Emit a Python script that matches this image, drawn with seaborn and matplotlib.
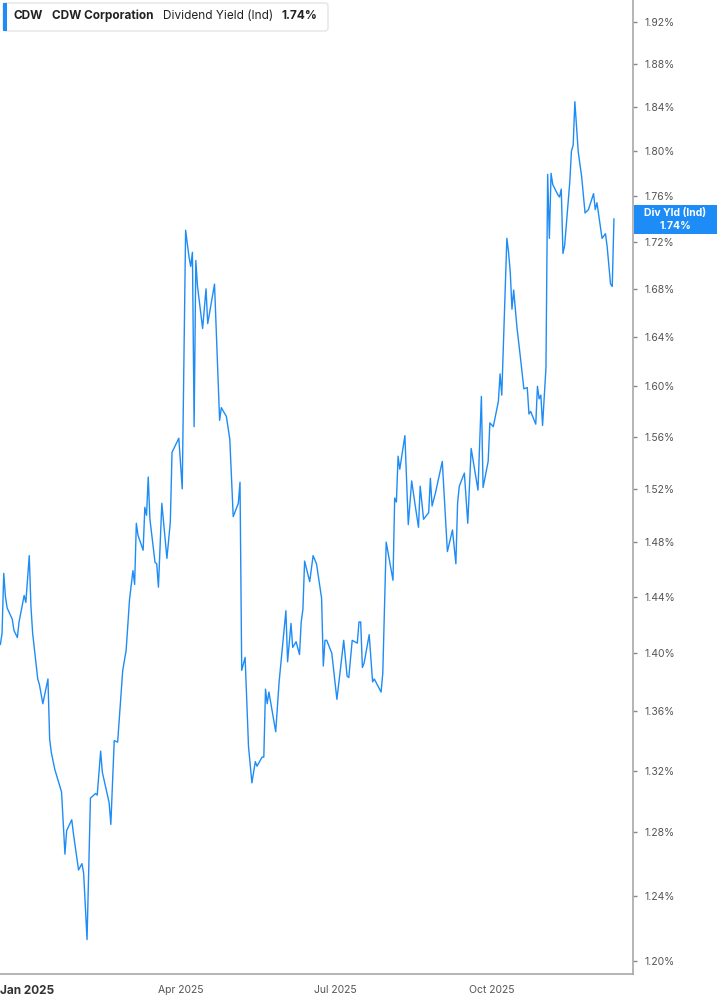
import matplotlib
matplotlib.use("Agg")
import matplotlib.pyplot as plt
import matplotlib.dates as mdates
import matplotlib.ticker as mticker
from matplotlib.patches import Rectangle, FancyBboxPatch
from matplotlib.transforms import IdentityTransform
import seaborn as sns
import pandas as pd

# data
trade_dates = [
    "2024-12-16", "2024-12-17", "2024-12-18", "2024-12-19", "2024-12-20", "2024-12-23",
    "2024-12-24", "2024-12-26", "2024-12-27", "2024-12-30", "2024-12-31", "2025-01-02",
    "2025-01-03", "2025-01-04", "2025-01-07", "2025-01-08", "2025-01-10", "2025-01-13",
    "2025-01-14", "2025-01-15", "2025-01-17", "2025-01-21", "2025-01-23", "2025-01-24",
    "2025-01-27", "2025-01-28", "2025-01-31", "2025-02-02", "2025-02-03", "2025-02-05",
    "2025-02-07", "2025-02-10", "2025-02-11", "2025-02-13", "2025-02-14", "2025-02-18",
    "2025-02-19", "2025-02-21", "2025-02-23", "2025-02-26", "2025-02-28", "2025-03-02",
    "2025-03-04", "2025-03-05", "2025-03-06", "2025-03-07", "2025-03-10", "2025-03-11",
    "2025-03-12", "2025-03-13", "2025-03-14", "2025-03-17", "2025-03-18", "2025-03-19",
    "2025-03-21", "2025-03-24", "2025-03-26", "2025-03-27", "2025-03-31", "2025-04-02",
    "2025-04-04", "2025-04-06", "2025-04-07", "2025-04-08", "2025-04-09", "2025-04-10",
    "2025-04-11", "2025-04-14", "2025-04-16", "2025-04-17", "2025-04-21", "2025-04-24",
    "2025-04-25", "2025-04-28", "2025-04-30", "2025-05-02", "2025-05-05", "2025-05-06",
    "2025-05-07", "2025-05-09", "2025-05-11", "2025-05-13", "2025-05-15", "2025-05-16",
    "2025-05-19", "2025-05-20", "2025-05-21", "2025-05-22", "2025-05-23", "2025-05-27",
    "2025-05-28", "2025-05-29", "2025-06-02", "2025-06-03", "2025-06-05", "2025-06-06",
    "2025-06-08", "2025-06-10", "2025-06-11", "2025-06-12", "2025-06-13", "2025-06-16",
    "2025-06-18", "2025-06-20", "2025-06-23", "2025-06-24", "2025-06-25", "2025-06-26",
    "2025-06-29", "2025-07-02", "2025-07-04", "2025-07-06", "2025-07-08", "2025-07-09",
    "2025-07-11", "2025-07-14", "2025-07-15", "2025-07-16", "2025-07-17", "2025-07-18",
    "2025-07-21", "2025-07-23", "2025-07-24", "2025-07-28", "2025-07-29", "2025-07-31",
    "2025-08-04", "2025-08-05", "2025-08-06", "2025-08-07", "2025-08-08", "2025-08-11",
    "2025-08-13", "2025-08-15", "2025-08-17", "2025-08-19", "2025-08-20", "2025-08-22",
    "2025-08-25", "2025-08-26", "2025-08-27", "2025-08-29", "2025-09-02", "2025-09-05",
    "2025-09-08", "2025-09-10", "2025-09-11", "2025-09-12", "2025-09-15", "2025-09-17",
    "2025-09-19", "2025-09-23", "2025-09-25", "2025-09-26", "2025-09-29", "2025-09-30",
    "2025-10-02", "2025-10-05", "2025-10-06", "2025-10-07", "2025-10-10", "2025-10-11",
    "2025-10-12", "2025-10-13", "2025-10-14", "2025-10-16", "2025-10-18", "2025-10-20",
    "2025-10-22", "2025-10-23", "2025-10-24", "2025-10-27", "2025-10-28", "2025-10-29",
    "2025-10-30", "2025-10-31", "2025-11-02", "2025-11-03", "2025-11-04", "2025-11-05",
    "2025-11-06", "2025-11-09", "2025-11-10", "2025-11-11", "2025-11-12", "2025-11-13",
    "2025-11-16", "2025-11-17", "2025-11-18", "2025-11-19", "2025-11-21", "2025-11-23",
    "2025-11-25", "2025-11-27", "2025-11-30", "2025-12-01", "2025-12-02", "2025-12-05",
    "2025-12-07", "2025-12-08", "2025-12-10", "2025-12-11", "2025-12-12",
]

div_yield = [
    1.406, 1.414, 1.457, 1.440, 1.432, 1.424,
    1.416, 1.411, 1.422, 1.441, 1.436, 1.470,
    1.433, 1.414, 1.382, 1.378, 1.365, 1.382,
    1.341, 1.332, 1.321, 1.306, 1.266, 1.281,
    1.288, 1.279, 1.256, 1.260, 1.254, 1.213,
    1.302, 1.305, 1.304, 1.333, 1.319, 1.299,
    1.285, 1.340, 1.339, 1.388, 1.402, 1.438,
    1.459, 1.449, 1.494, 1.485, 1.474, 1.506,
    1.500, 1.529, 1.497, 1.465, 1.464, 1.447,
    1.509, 1.468, 1.495, 1.548, 1.559, 1.520,
    1.730, 1.707, 1.699, 1.711, 1.568, 1.704,
    1.682, 1.647, 1.680, 1.651, 1.684, 1.573,
    1.583, 1.576, 1.558, 1.499, 1.509, 1.525,
    1.388, 1.397, 1.336, 1.312, 1.326, 1.323,
    1.329, 1.329, 1.375, 1.365, 1.373, 1.346,
    1.363, 1.380, 1.430, 1.394, 1.421, 1.404,
    1.408, 1.399, 1.422, 1.431, 1.466, 1.451,
    1.470, 1.464, 1.439, 1.391, 1.409, 1.409,
    1.400, 1.368, 1.388, 1.409, 1.384, 1.383,
    1.409, 1.407, 1.422, 1.422, 1.390, 1.393,
    1.413, 1.380, 1.382, 1.373, 1.386, 1.480,
    1.452, 1.513, 1.510, 1.545, 1.535, 1.561,
    1.493, 1.526, 1.508, 1.491, 1.522, 1.497,
    1.502, 1.528, 1.507, 1.517, 1.541, 1.473,
    1.489, 1.464, 1.509, 1.522, 1.532, 1.494,
    1.551, 1.519, 1.592, 1.521, 1.541, 1.571,
    1.568, 1.588, 1.610, 1.593, 1.723, 1.711,
    1.694, 1.663, 1.679, 1.647, 1.623, 1.598,
    1.599, 1.578, 1.580, 1.570, 1.600, 1.590,
    1.593, 1.569, 1.615, 1.779, 1.723, 1.780,
    1.770, 1.761, 1.759, 1.766, 1.710, 1.717,
    1.772, 1.800, 1.805, 1.845, 1.799, 1.777,
    1.745, 1.748, 1.762, 1.748, 1.754, 1.723,
    1.727, 1.716, 1.684, 1.682, 1.740,
]

ytick_vals = [1.20, 1.24, 1.28, 1.32, 1.36, 1.40, 1.44, 1.48, 1.52, 1.56,
              1.60, 1.64, 1.68, 1.72, 1.76, 1.80, 1.84, 1.88, 1.92]
xtick_dates = ["2025-01-01", "2025-04-01", "2025-07-01", "2025-10-01"]
xtick_labels = ["Jan 2025", "Apr 2025", "Jul 2025", "Oct 2025"]

ticker = "CDW"
company = "CDW Corporation"
metric = "Dividend Yield (Ind)"
metric_short = "Div Yld (Ind)"

df = pd.DataFrame({"date": pd.to_datetime(trade_dates), "yield": div_yield})

BLUE = "#1e8cf6"

sns.set_style("white")
plt.rcParams["font.family"] = ["Inter", "DejaVu Sans"]

W, H = 717, 1005
fig = plt.figure(figsize=(W / 100, H / 100), dpi=100)
ax = fig.add_axes([0, 31 / H, 633 / W, 1 - 31 / H])

sns.lineplot(data=df, x="date", y="yield", ax=ax, color=BLUE, linewidth=1.0)

ax.set_yscale("log")
ax.set_ylim(1.1923, 1.9413)
ax.set_xlim(pd.Timestamp("2024-12-15 19:00"), pd.Timestamp("2025-12-23 05:00"))

ax.yaxis.tick_right()
ax.yaxis.set_major_locator(mticker.FixedLocator(ytick_vals))
ax.yaxis.set_major_formatter(mticker.FuncFormatter(lambda v, p: f"{v:.2f}%"))
ax.yaxis.set_minor_locator(mticker.NullLocator())
ax.yaxis.set_minor_formatter(mticker.NullFormatter())
ax.set_xticks(pd.to_datetime(xtick_dates))
ax.set_xticklabels(xtick_labels)
ax.set_xlabel("")
ax.set_ylabel("")

for side in ["left", "top"]:
    ax.spines[side].set_visible(False)
for side in ["right", "bottom"]:
    ax.spines[side].set_color("#a8a8a8")
    ax.spines[side].set_linewidth(1.2)

ax.tick_params(axis="y", direction="out", length=3, width=1, color="#888888",
               labelsize=7.5, labelcolor="#555555", pad=5)
ax.tick_params(axis="x", direction="out", length=4, width=1, color="#a8a8a8",
               labelsize=7.5, labelcolor="#555555", pad=4)
first = ax.get_xticklabels()[0]
first.set_fontweight("bold")
first.set_fontsize(8.5)
first.set_color("#333333")

# legend box at top left
ident = IdentityTransform()
fig.add_artist(FancyBboxPatch((3, H - 31), 325, 28, boxstyle="round,pad=0,rounding_size=3",
                              facecolor="white", edgecolor="#e4e4e4", linewidth=1,
                              transform=ident))
fig.add_artist(Rectangle((3, H - 31), 4, 28, facecolor=BLUE, edgecolor="none",
                         transform=ident))
ty = H - 16
fig.text(13, ty, ticker, transform=ident, fontsize=8.5, fontweight="bold", color="#222222", va="center")
fig.text(52, ty, company, transform=ident, fontsize=8.5, fontweight="bold", color="#222222", va="center")
fig.text(163, ty, metric, transform=ident, fontsize=8.5, color="#222222", va="center")
fig.text(281, ty, f"{div_yield[-1]:.2f}%", transform=ident, fontsize=8.5, fontweight="bold",
         color="#222222", va="center")

# last value label on the right axis
yc = ax.transData.transform((mdates.date2num(df["date"].iloc[-1]), div_yield[-1]))[1]
fig.add_artist(Rectangle((634, yc - 15), 83, 29, facecolor=BLUE, edgecolor="none",
                         transform=ident))
fig.text(675.5, yc + 6, metric_short, transform=ident, fontsize=7.5, fontweight="bold",
         color="white", ha="center", va="center")
fig.text(675.5, yc - 7, f"{div_yield[-1]:.2f}%", transform=ident, fontsize=7.5,
         fontweight="bold", color="white", ha="center", va="center")

plt.savefig("out.png", dpi=100)
